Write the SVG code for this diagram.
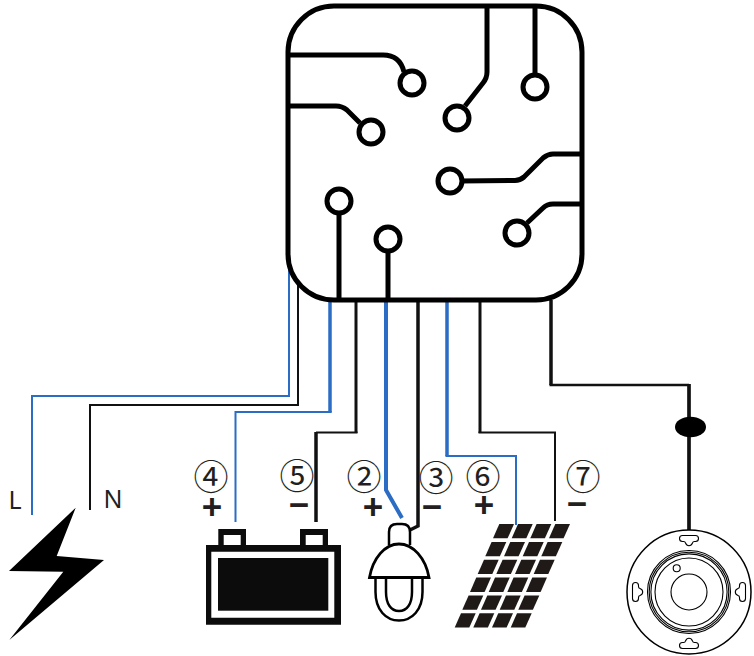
<svg xmlns="http://www.w3.org/2000/svg" xmlns:xlink="http://www.w3.org/1999/xlink" width="754" height="656" viewBox="0 0 754 656">
<style>
.w{fill:none;stroke-linejoin:miter}
.bk{stroke:#111}
.bl{stroke:#2b6cc4}
.t{fill:none;stroke:#000;stroke-width:5}
.pin{fill:#fff;stroke:#000;stroke-width:5}
.thin{fill:none;stroke:#000;stroke-width:1.100}
.num{font-family:"Noto Sans CJK JP","DejaVu Sans",sans-serif;font-size:35px;fill:#231f20;text-anchor:middle}
.sign{font-family:"Liberation Sans",sans-serif;font-weight:700;font-size:35px;fill:#231f20;text-anchor:middle}
.lab{font-family:"Noto Sans",sans-serif;font-size:25px;fill:#231f20;text-anchor:middle}
.cell{fill:#1f1a17}
</style>
<defs>
<polygon id="c" class="cell" points="0,0 14.7,0 8.3,14.3 -6.3,14.3"/>
<path id="k" class="thin" d="M682.500 535.500H695.500A3 3 0 0 1 695.500 541.500H694.500Q692.800 541.500 692.500 543Q691.500 545.700 689 545.700Q686.500 545.700 685.500 543Q685.200 541.500 683.500 541.500H682.500A3 3 0 0 1 682.500 535.500Z"/>
</defs>
<g id="connectors">
<path class="w bl" stroke-width="2" d="M289 265V396H32V515"/>
<path class="w bk" stroke-width="2" d="M298 280V405H90V510"/>
<path class="w bl" stroke-width="3.500" d="M330 300V412"/>
<path class="w bl" stroke-width="2" d="M331.700 412H235.500V522"/>
<path class="w bk" stroke-width="3" d="M356 300V433"/>
<path class="w bk" stroke-width="2" d="M357.500 432.500H316"/>
<path class="w bk" stroke-width="3.500" d="M316 432V522"/>
<path class="w bl" stroke-width="4" d="M386 300V490L402 518"/>
<path class="w bk" stroke-width="3.500" d="M418 300V526L410 530"/>
<path class="w bl" stroke-width="3.500" d="M447 300V456"/>
<path class="w bl" stroke-width="2" d="M445.500 456H516V525"/>
<path class="w bk" stroke-width="3" d="M480 300V433"/>
<path class="w bk" stroke-width="2" d="M478.500 432.500H555V521"/>
<path class="w bk" stroke-width="3.500" d="M551 300V385"/>
<path class="w bk" stroke-width="2.500" d="M549.500 385H689"/>
<path class="w bk" stroke-width="3.700" d="M689 384V530"/>
<ellipse cx="690.500" cy="427" rx="15.500" ry="10.300" fill="#000"/>
</g>
<g id="module">
<rect x="288" y="6" width="294" height="294" rx="46" class="t" fill="none"/>
<path class="t" d="M288 55H383Q400 55 404 72"/>
<path class="t" d="M288 106H336Q342 106 347 110L360 123"/>
<path class="t" d="M487 6V72Q487 78 483 83L465 106"/>
<path class="t" d="M535 6V75"/>
<path class="t" d="M460 181L515 180.500Q520 180.500 524 177L543 158Q548 154 553 154H582"/>
<path class="t" d="M582 204H553Q547 204 543 208L527 223"/>
<path class="t" d="M339 213V300"/>
<path class="t" d="M388 251V300"/>
<circle class="pin" cx="412" cy="83" r="12"/>
<circle class="pin" cx="371" cy="132" r="12"/>
<circle class="pin" cx="457" cy="118" r="12"/>
<circle class="pin" cx="535" cy="87" r="12"/>
<circle class="pin" cx="450" cy="181" r="12"/>
<circle class="pin" cx="517" cy="233" r="12"/>
<circle class="pin" cx="339" cy="201" r="12"/>
<circle class="pin" cx="388" cy="239" r="12"/>
</g>
<g id="mains">
<text class="lab" x="15" y="509">L</text>
<text class="lab" x="113" y="508">N</text>
<polygon points="75.700,507.700 56.700,556 104,560 9.300,640 63.300,571.700 9,571" fill="#000"/>
</g>
<g id="battery">
<text class="num" x="211" y="490">④</text>
<text class="num" x="297" y="489">⑤</text>
<text class="sign" x="212" y="519">+</text>
<text class="sign" x="299" y="517">−</text>
<path fill="#0c0c0c" fill-rule="evenodd" d="M218.300 529H246V545H300V529H328V545H341V624.700H206V545H218.300ZM223.700 535V545H240.700V535ZM305.700 535V545H322.700V535ZM211.300 551.700V617.700H334.300V551.700Z"/>
<rect x="218" y="558" width="110.300" height="52.700" fill="#0c0c0c"/>
</g>
<g id="lamp">
<text class="num" x="364" y="490">②</text>
<text class="num" x="436" y="491">③</text>
<text class="sign" x="373" y="519">+</text>
<text class="sign" x="432" y="519">−</text>
<path d="M389 545V532Q389 524 397 524H402Q410 524 410 532V545" fill="#fff" stroke="#000" stroke-width="2.500"/>
<path d="M375.500 577V592C375.500 610 386 620.500 399 620.500C412 620.500 422.500 610 422.500 592V577" fill="#fff" stroke="#000" stroke-width="2.500"/>
<path d="M386 577V592C386 604 391 611 399 611C407 611 412 604 412 592V577" fill="#fff" stroke="#000" stroke-width="2.500"/>
<path d="M369.500 577.500C373 558 385 544 399 544C413 544 425.500 558 429 577.500Z" fill="#fff" stroke="#000" stroke-width="2.800"/>
</g>
<g id="solar">
<text class="num" x="483" y="490">⑥</text>
<text class="num" x="583" y="490">⑦</text>
<text class="sign" x="484" y="517">+</text>
<text class="sign" x="577" y="516">−</text>
<use xlink:href="#c" href="#c" x="499.3" y="524"/><use href="#c" x="518" y="524"/><use href="#c" x="536.6" y="524"/><use href="#c" x="555.3" y="524"/>
<use href="#c" x="491.6" y="541.9"/><use href="#c" x="510.3" y="541.9"/><use href="#c" x="529" y="541.9"/><use href="#c" x="547.6" y="541.9"/>
<use href="#c" x="484" y="559.7"/><use href="#c" x="502.6" y="559.7"/><use href="#c" x="521.3" y="559.7"/><use href="#c" x="540" y="559.7"/>
<use href="#c" x="476.3" y="577.6"/><use href="#c" x="495" y="577.6"/><use href="#c" x="513.6" y="577.6"/><use href="#c" x="532.3" y="577.6"/>
<use href="#c" x="468.6" y="595.5"/><use href="#c" x="487.3" y="595.5"/><use href="#c" x="506" y="595.5"/><use href="#c" x="524.6" y="595.5"/>
<use href="#c" x="461" y="613.3"/><use href="#c" x="479.6" y="613.3"/><use href="#c" x="498.3" y="613.3"/><use href="#c" x="517" y="613.3"/>
</g>
<g id="sensor">
<circle cx="689" cy="592" r="62" fill="#fff" stroke="#000" stroke-width="1.500"/>
<use href="#k"/>
<use href="#k" transform="rotate(90 689 592)"/>
<use href="#k" transform="rotate(180 689 592)"/>
<use href="#k" transform="rotate(270 689 592)"/>
<circle class="thin" cx="689" cy="592" r="41.500"/>
<circle class="thin" cx="689" cy="592" r="39.800"/>
<circle class="thin" cx="689" cy="592" r="38.100"/>
<circle class="thin" cx="689" cy="592" r="34"/>
<circle class="thin" cx="689" cy="592" r="18"/>
<circle class="thin" cx="676.700" cy="568.300" r="3.500"/>
</g>
</svg>
